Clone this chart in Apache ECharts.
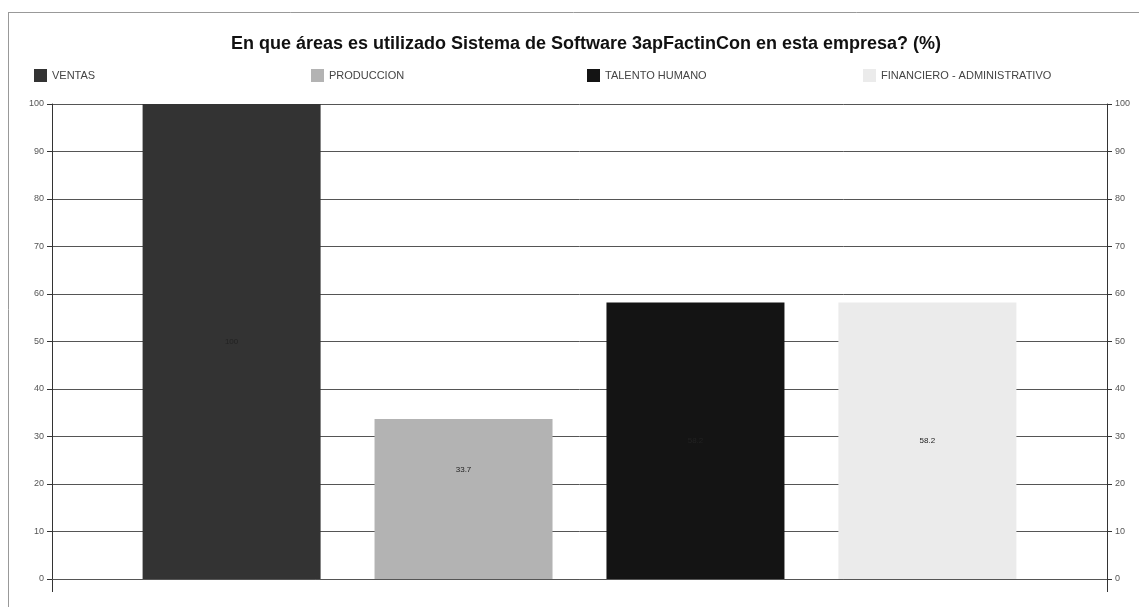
<!DOCTYPE html>
<html><head><meta charset="utf-8">
<script src="https://cdn.jsdelivr.net/npm/echarts@6/dist/echarts.min.js"></script>
<style>html,body{margin:0;padding:0;background:#fff}#c{width:1139px;height:607px}</style>
</head><body><div id="c"></div>
<script>
const titleText = 'En que áreas es utilizado Sistema de Software 3apFactinCon en esta empresa? (%)';
const categories = [''];
const seriesNames = ['VENTAS', 'PRODUCCION', 'TALENTO HUMANO', 'FINANCIERO - ADMINISTRATIVO'];
const ventas = [100];
const produccion = [33.7];
const talento = [58.2];
const financiero = [58.2];
const seriesValues = [ventas, produccion, talento, financiero];
const colors = ['#333333', '#b3b3b3', '#141414', '#ebebeb'];
const legendLefts = [29, 306, 582, 858];
const labelOffsets = [[0, 0], [0, -29], [0, 0], [0, 0]];

const chart = echarts.init(document.getElementById('c'));
const font = 'Liberation Sans, Arial, sans-serif';
chart.setOption({
  animation: false,
  backgroundColor: '#fff',
  color: colors,
  title: {
    text: titleText, left: 581, top: 30, textAlign: 'center',
    textStyle: {fontFamily: font, fontSize: 18, fontWeight: 'bold', color: '#111'}
  },
  legend: seriesNames.map((n, i) => ({
    data: [n], left: legendLefts[i], top: 64, itemWidth: 13, itemHeight: 13, itemGap: 5,
    icon: 'rect', selectedMode: false,
    textStyle: {fontFamily: font, fontSize: 11, color: '#444'}
  })),
  graphic: [
    {type: 'line', shape: {x1: 8, y1: 12.5, x2: 1139, y2: 12.5}, style: {stroke: '#999', lineWidth: 1}},
    {type: 'line', shape: {x1: 8.5, y1: 12, x2: 8.5, y2: 607}, style: {stroke: '#999', lineWidth: 1}},
    {type: 'line', shape: {x1: 52.5, y1: 579, x2: 52.5, y2: 592}, style: {stroke: '#333', lineWidth: 1}},
    {type: 'line', shape: {x1: 1107.5, y1: 579, x2: 1107.5, y2: 592}, style: {stroke: '#333', lineWidth: 1}}
  ],
  grid: {left: 52, right: 32, top: 104, bottom: 28},
  xAxis: {
    type: 'category', data: categories,
    axisLine: {show: true, lineStyle: {color: '#555'}},
    axisTick: {show: false}, axisLabel: {show: false}
  },
  yAxis: [
    {type: 'value', min: 0, max: 100, interval: 10, position: 'left',
     axisLine: {show: true, lineStyle: {color: '#333'}},
     axisTick: {show: true, length: 5, lineStyle: {color: '#333'}},
     axisLabel: {fontFamily: font, fontSize: 9, color: '#555', margin: 8},
     splitLine: {show: true, lineStyle: {color: '#555', width: 1}}},
    {type: 'value', min: 0, max: 100, interval: 10, position: 'right',
     axisLine: {show: true, lineStyle: {color: '#333'}},
     axisTick: {show: true, length: 5, lineStyle: {color: '#333'}},
     axisLabel: {fontFamily: font, fontSize: 9, color: '#555', margin: 8},
     splitLine: {show: false}}
  ],
  series: seriesNames.map((n, i) => ({
    name: n, type: 'bar', data: seriesValues[i], barWidth: 178, barGap: '30.3%',
    itemStyle: {color: colors[i]},
    label: {show: true, position: 'inside', offset: labelOffsets[i], fontFamily: font, fontSize: 8, color: '#222', formatter: p => String(p.value)}
  }))
});
</script></body></html>
